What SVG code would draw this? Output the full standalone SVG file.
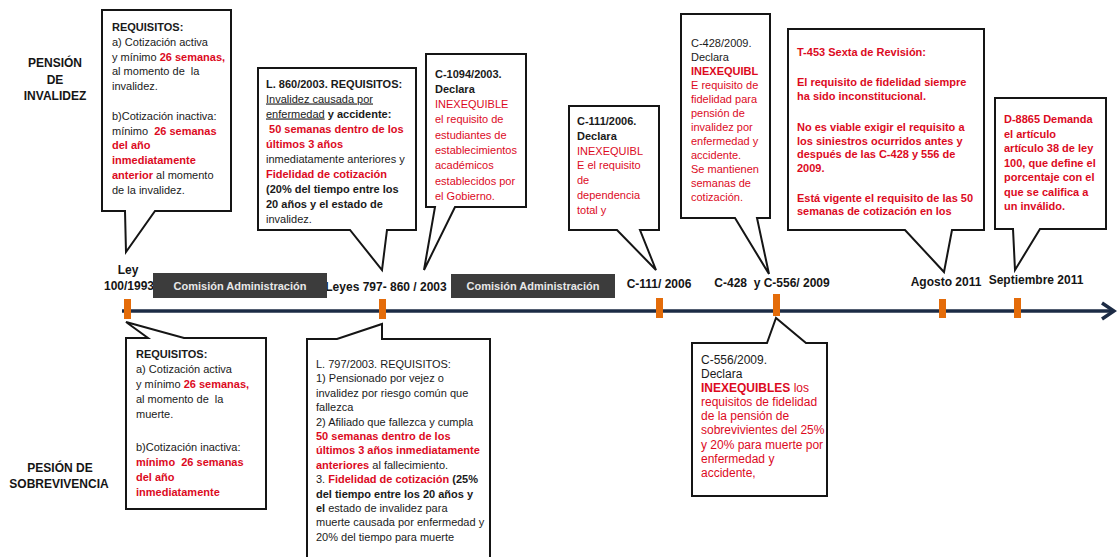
<svg xmlns="http://www.w3.org/2000/svg" width="1117" height="557" viewBox="0 0 1117 557">
<style>
.box{fill:#fff;stroke:#151515;stroke-width:2}
.t{font-family:"Liberation Sans",Arial,sans-serif;font-size:11px;fill:#1a1a1a}
.t12{font-size:12px}
.r{fill:#dc0a1e}
.b{font-weight:bold}
.u{text-decoration:underline}
.tick{fill:#e46c0a}
.lbl{font-family:"Liberation Sans",Arial,sans-serif;font-weight:bold;font-size:12px;fill:#151515;text-anchor:middle}
.com{fill:#3c3c3c}
.comt{font-family:"Liberation Sans",Arial,sans-serif;font-weight:bold;font-size:11px;fill:#e8e8e8;text-anchor:middle}
.axis{fill:none;stroke:#1c2b45;stroke-width:3.5}
</style>

<g id="side-labels">
<text class="lbl" x="55" y="67">PENSIÓN</text>
<text class="lbl" x="55" y="84">DE</text>
<text class="lbl" x="55" y="100">INVALIDEZ</text>
<text class="lbl" x="60" y="472" font-size="11.5">PESIÓN DE</text>
<text class="lbl" x="59" y="488" font-size="11.5">SOBREVIVENCIA</text>
</g>

<g id="connectors">
<line class="axis" x1="122" y1="311" x2="1113" y2="311"/>
<polyline class="axis" points="1102,303 1114,311 1102,319"/>
</g>

<g id="timeline-marks">
<rect class="tick" x="124" y="299" width="7" height="20"/>
<rect class="tick" x="379" y="299" width="7" height="20"/>
<rect class="tick" x="656" y="298" width="7" height="20"/>
<rect class="tick" x="773" y="294" width="7" height="22"/>
<rect class="tick" x="939" y="299" width="7" height="19"/>
<rect class="tick" x="1014" y="298" width="7" height="20"/>
</g>

<g id="timeline-labels">
<text class="lbl" x="128" y="274" font-size="11.5">Ley</text>
<text class="lbl" x="129" y="290" font-size="11.5">100/1993</text>
<text class="lbl" x="386" y="291">Leyes 797- 860 / 2003</text>
<text class="lbl" x="659" y="288" font-size="11.5">C-111/ 2006</text>
<text class="lbl" x="772" y="287" font-size="11.5" style="white-space:pre">C-428  y C-556/ 2009</text>
<text class="lbl" x="946" y="286" font-size="11.5">Agosto 2011</text>
<text class="lbl" x="1036" y="284" font-size="11.5">Septiembre 2011</text>
</g>

<g id="comision-1">
<rect class="com" x="153" y="273" width="174" height="25"/>
<text class="comt" x="240" y="289.5">Comisión Administración</text>
</g>
<g id="comision-2">
<rect class="com" x="451" y="274" width="164" height="24"/>
<text class="comt" x="533" y="290">Comisión Administración</text>
</g>

<g id="box-ley100-invalidez">
<path class="box" d="M102,10 H231 V211 H155 L126,252 L125,211 H102 Z"/>
<text class="t" x="112" y="31"><tspan class="b">REQUISITOS:</tspan></text>
<text class="t" x="112" y="45.8">a) Cotización activa</text>
<text class="t" x="112" y="60.6">y mínimo <tspan class="r b">26 semanas,</tspan></text>
<text class="t" x="112" y="75.4" style="white-space:pre">al momento de  la</text>
<text class="t" x="112" y="90.2">invalidez.</text>
<text class="t" x="112" y="119.8">b)Cotización inactiva:</text>
<text class="t" x="112" y="134.6" style="white-space:pre">mínimo  <tspan class="r b">26 semanas</tspan></text>
<text class="t r b" x="112" y="149.4">del año</text>
<text class="t r b" x="112" y="164.2">inmediatamente</text>
<text class="t" x="112" y="179"><tspan class="r b">anterior</tspan> al momento</text>
<text class="t" x="112" y="193.8">de la invalidez.</text>
</g>

<g id="box-l860">
<path class="box" d="M258,68 H416 V230 H387 L382,270 L350,230 H258 Z"/>
<text class="t b" x="266" y="87.5">L. 860/2003. REQUISITOS:</text>
<text class="t u" x="266" y="102.5">Invalidez causada por</text>
<text class="t" x="266" y="117.5"><tspan class="u">enfermedad</tspan><tspan class="b"> y accidente:</tspan></text>
<text class="t r b" x="266" y="132.5" style="white-space:pre"> 50 semanas dentro de los</text>
<text class="t r b" x="266" y="147.5">últimos 3 años</text>
<text class="t" x="266" y="162.5">inmediatamente anteriores y</text>
<text class="t r b" x="266" y="177.5">Fidelidad de cotización</text>
<text class="t b" x="266" y="192.5">(20% del tiempo entre los</text>
<text class="t b" x="266" y="207.5">20 años y el estado de</text>
<text class="t" x="266" y="222.5">invalidez.</text>
</g>

<g id="box-c1094">
<path class="box" d="M426,54 H526 V207 H455 L424,270 L435,207 H426 Z"/>
<text class="t b" x="435" y="77.5">C-1094/2003.</text>
<text class="t b" x="435" y="92.8">Declara</text>
<text class="t r" x="435" y="108.1">INEXEQUIBLE</text>
<text class="t r" x="435" y="123.4">el requisito de</text>
<text class="t r" x="435" y="138.7">estudiantes de</text>
<text class="t r" x="435" y="154">establecimientos</text>
<text class="t r" x="435" y="169.3">académicos</text>
<text class="t r" x="435" y="184.6">establecidos por</text>
<text class="t r" x="435" y="199.9">el Gobierno.</text>
</g>

<g id="box-c111">
<path class="box" d="M569,106 H659 V230 H640 L656,270 L617,230 H569 Z"/>
<text class="t b" x="577" y="125">C-111/2006.</text>
<text class="t b" x="577" y="139.8">Declara</text>
<text class="t r" x="577" y="154.6">INEXEQUIBL</text>
<text class="t r" x="577" y="169.4">E el requisito</text>
<text class="t r" x="577" y="184.2">de</text>
<text class="t r" x="577" y="199">dependencia</text>
<text class="t r" x="577" y="213.8">total y</text>
</g>

<g id="box-c428">
<path class="box" d="M681,14 H770 V218 H757 L769,274 L735,218 H681 Z"/>
<text class="t" x="691" y="47">C-428/2009.</text>
<text class="t" x="691" y="61">Declara</text>
<text class="t r b" x="691" y="75">INEXEQUIBL</text>
<text class="t r" x="691" y="89">E requisito de</text>
<text class="t r" x="691" y="103">fidelidad para</text>
<text class="t r" x="691" y="117">pensión de</text>
<text class="t r" x="691" y="131">invalidez por</text>
<text class="t r" x="691" y="145">enfermedad y</text>
<text class="t r" x="691" y="159">accidente.</text>
<text class="t r" x="691" y="173">Se mantienen</text>
<text class="t r" x="691" y="187">semanas de</text>
<text class="t r" x="691" y="201">cotización.</text>
</g>

<g id="box-t453">
<path class="box" d="M788,29 H984 V230 H952 L944,272 L905,230 H788 Z"/>
<text class="t r b" x="797" y="56">T-453 Sexta de Revisión:</text>
<text class="t r b" x="797" y="86">El requisito de fidelidad siempre</text>
<text class="t r b" x="797" y="100">ha sido inconstitucional.</text>
<text class="t r b" x="797" y="131">No es viable exigir el requisito a</text>
<text class="t r b" x="797" y="144.5">los siniestros ocurridos antes y</text>
<text class="t r b" x="797" y="158">después de las C-428 y 556 de</text>
<text class="t r b" x="797" y="171.5">2009.</text>
<text class="t r b" x="797" y="201.5">Está vigente el requisito de las 50</text>
<text class="t r b" x="797" y="215">semanas de cotización en los</text>
</g>

<g id="box-d8865">
<path class="box" d="M995,98 H1106 V229 H1040 L1015,270 L1013,229 H995 Z"/>
<text class="t r b" x="1004" y="123" font-size="11.5">D-8865 Demanda</text>
<text class="t r b" x="1004" y="137.5" font-size="11.5">el artículo</text>
<text class="t r b" x="1004" y="152" font-size="11.5">artículo 38 de ley</text>
<text class="t r b" x="1004" y="166.5" font-size="11.5">100, que define el</text>
<text class="t r b" x="1004" y="181" font-size="11.5">porcentaje con el</text>
<text class="t r b" x="1004" y="195.5" font-size="11.5">que se califica a</text>
<text class="t r b" x="1004" y="210" font-size="11.5">un inválido.</text>
</g>

<g id="box-ley100-sobrevivencia">
<path class="box" d="M126,338 H148 L126,322 L184,338 H266 V509 H126 Z"/>
<text class="t b" x="136" y="358">REQUISITOS:</text>
<text class="t" x="136" y="373">a) Cotización activa</text>
<text class="t" x="136" y="388">y mínimo <tspan class="r b">26 semanas,</tspan></text>
<text class="t" x="136" y="403" style="white-space:pre">al momento de  la</text>
<text class="t" x="136" y="418">muerte.</text>
<text class="t" x="136" y="451">b)Cotización inactiva:</text>
<text class="t r b" x="136" y="466" style="white-space:pre">mínimo  26 semanas</text>
<text class="t r b" x="136" y="480.5">del año</text>
<text class="t r b" x="136" y="495.5">inmediatamente</text>
</g>

<g id="box-l797">
<path class="box" d="M307,339 H337 L382,324 V339 H490 V560 H307 Z"/>
<text class="t" x="316" y="368">L. 797/2003. REQUISITOS:</text>
<text class="t" x="316" y="382.4">1) Pensionado por vejez o</text>
<text class="t" x="316" y="396.8">invalidez por riesgo común que</text>
<text class="t" x="316" y="411.2">fallezca</text>
<text class="t" x="316" y="425.6">2) Afiliado que fallezca y cumpla</text>
<text class="t r b" x="316" y="440">50 semanas dentro de los</text>
<text class="t r b" x="316" y="454.4">últimos 3 años inmediatamente</text>
<text class="t" x="316" y="468.8"><tspan class="r b">anteriores</tspan> al fallecimiento.</text>
<text class="t" x="316" y="483.2">3. <tspan class="r b">Fidelidad de cotización</tspan><tspan class="b"> (25%</tspan></text>
<text class="t b" x="316" y="497.6">del tiempo entre los 20 años y</text>
<text class="t" x="316" y="512"><tspan class="b">el</tspan> estado de invalidez para</text>
<text class="t" x="316" y="526.4">muerte causada por enfermedad y</text>
<text class="t" x="316" y="540.8">20% del tiempo para muerte</text>
</g>

<g id="box-c556">
<path class="box" d="M692,343 H767 L776,318 L806,343 H827 V496 H692 Z"/>
<text class="t t12" x="701" y="364">C-556/2009.</text>
<text class="t t12" x="701" y="378">Declara</text>
<text class="t t12 r" x="701" y="392"><tspan class="b">INEXEQUIBLES</tspan> los</text>
<text class="t t12 r" x="701" y="406">requisitos de fidelidad</text>
<text class="t t12 r" x="701" y="420">de la pensión de</text>
<text class="t t12 r" x="701" y="434">sobrevivientes del 25%</text>
<text class="t t12 r" x="701" y="448.5">y 20% para muerte por</text>
<text class="t t12 r" x="701" y="462.5">enfermedad y</text>
<text class="t t12 r" x="701" y="477">accidente,</text>
</g>
</svg>
